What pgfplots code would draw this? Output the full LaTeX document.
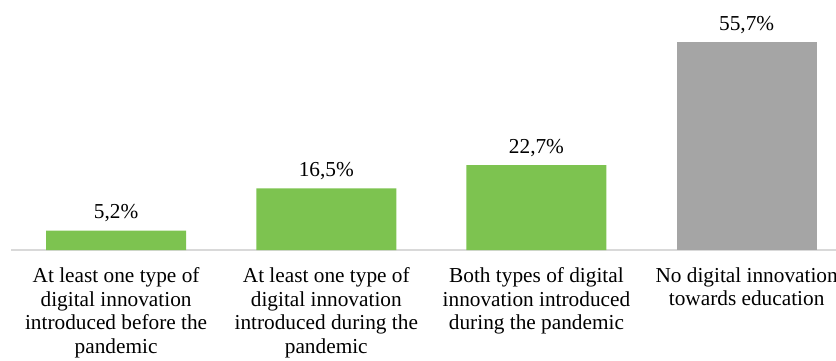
\documentclass[border=0pt]{standalone}
\usepackage{fontspec}
\setmainfont{Liberation Serif}
\usepackage{pgfplots}
\pgfplotsset{compat=1.18}
\definecolor{bargreen}{RGB}{125,195,80}
\definecolor{bargray}{RGB}{165,165,165}
\definecolor{axgray}{RGB}{217,217,217}
\begin{document}
\begin{tikzpicture}
\begin{axis}[
  at={(0pt,0pt)}, anchor=south west,
  scale only axis,
  width=825pt, height=250pt,
  xmin=-0.5, xmax=3.425,
  ymin=0, ymax=66.95,
  ybar, bar width=140pt,
  axis y line=none,
  axis x line=bottom,
  x axis line style={draw=axgray, line width=1.8pt, -},
  xtick={0,1,2,3},
  major tick length=0pt,
  xticklabels={{At least one type of\\digital innovation\\introduced before the\\pandemic},
               {At least one type of\\digital innovation\\introduced during the\\pandemic},
               {Both types of digital\\innovation introduced\\during the pandemic},
               {No digital innovation\\towards education}},
  xticklabel style={align=center, font=\fontsize{21.3}{23.6}\selectfont, yshift=-14pt},
  nodes near coords={\pgfmathprintnumber[fixed,precision=1,fixed zerofill,use comma]{\pgfplotspointmeta}\%},
  /pgf/number format/assume math mode=true,
  every node near coord/.append style={font=\fontsize{21.3}{23.6}\selectfont, yshift=5pt, text=black},
  clip=false,
]
\addplot[fill=bargreen, draw=none, bar shift=0pt] coordinates {(0,5.2) (1,16.5) (2,22.7)};
\addplot[fill=bargray, draw=none, bar shift=0pt] coordinates {(3,55.7)};
\end{axis}
\pgfresetboundingbox
\path[use as bounding box] (-11pt,-111pt) rectangle (825pt,250pt);
\end{tikzpicture}
\end{document}
